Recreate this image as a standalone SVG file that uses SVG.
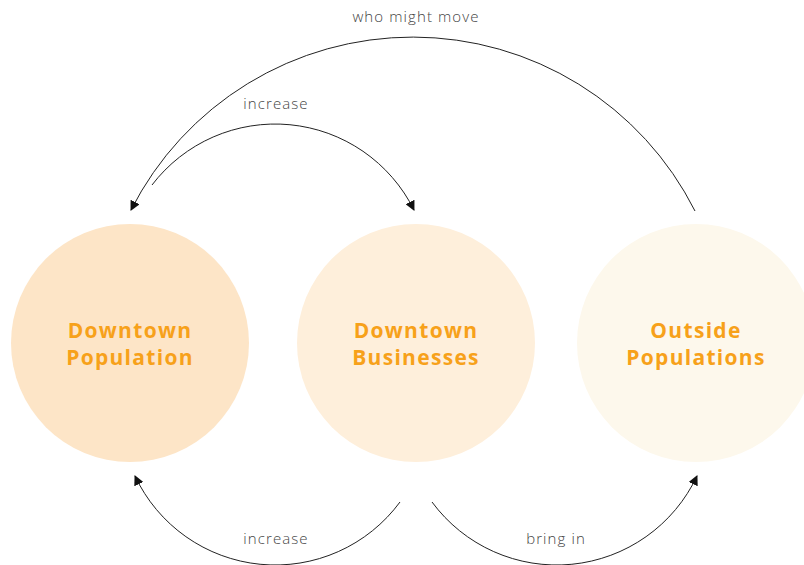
<svg xmlns="http://www.w3.org/2000/svg" width="804" height="565" viewBox="0 0 804 565">
<defs>
<style>
.node-label{font-family:"Open Sans","Liberation Sans",sans-serif;font-weight:700;font-size:21px;fill:#F7A11A;text-anchor:middle;letter-spacing:1.3px}
.edge-label{font-family:"Open Sans","Liberation Sans",sans-serif;font-weight:300;font-size:15px;fill:#444;text-anchor:middle;letter-spacing:1.1px}
.edge{fill:none;stroke:#222;stroke-width:1}
</style>
<marker id="arrow" viewBox="0 0 10 10" refX="9" refY="5" markerWidth="10" markerHeight="10" markerUnits="userSpaceOnUse" orient="auto">
<path d="M0,0 L10,5 L0,10 Z" fill="#111"/>
</marker>
</defs>
<rect width="804" height="565" fill="#fff"/>
<g id="node-downtown-population">
<circle cx="130" cy="343" r="119" fill="#FDE5C7"/>
<text class="node-label" x="130" y="338">Downtown</text>
<text class="node-label" x="130" y="365">Population</text>
</g>
<g id="node-downtown-businesses">
<circle cx="416" cy="343" r="119" fill="#FEEFDB"/>
<text class="node-label" x="416" y="338">Downtown</text>
<text class="node-label" x="416" y="365">Businesses</text>
</g>
<g id="node-outside-populations">
<circle cx="696" cy="343" r="119" fill="#FDF8EC"/>
<text class="node-label" x="696" y="338">Outside</text>
<text class="node-label" x="696" y="365">Populations</text>
</g>
<g id="connectors">
<path class="edge" d="M695,211 A316,316 0 0 0 131,210" marker-end="url(#arrow)"/>
<path class="edge" d="M152,185 A155,155 0 0 1 414,210" marker-end="url(#arrow)"/>
<path class="edge" d="M400,502 A155,155 0 0 1 135,476" marker-end="url(#arrow)"/>
<path class="edge" d="M432,502 A155,155 0 0 0 697,476" marker-end="url(#arrow)"/>
<text class="edge-label" x="416" y="22">who might move</text>
<text class="edge-label" x="276" y="109">increase</text>
<text class="edge-label" x="276" y="544">increase</text>
<text class="edge-label" x="556" y="544">bring in</text>
</g>
</svg>
